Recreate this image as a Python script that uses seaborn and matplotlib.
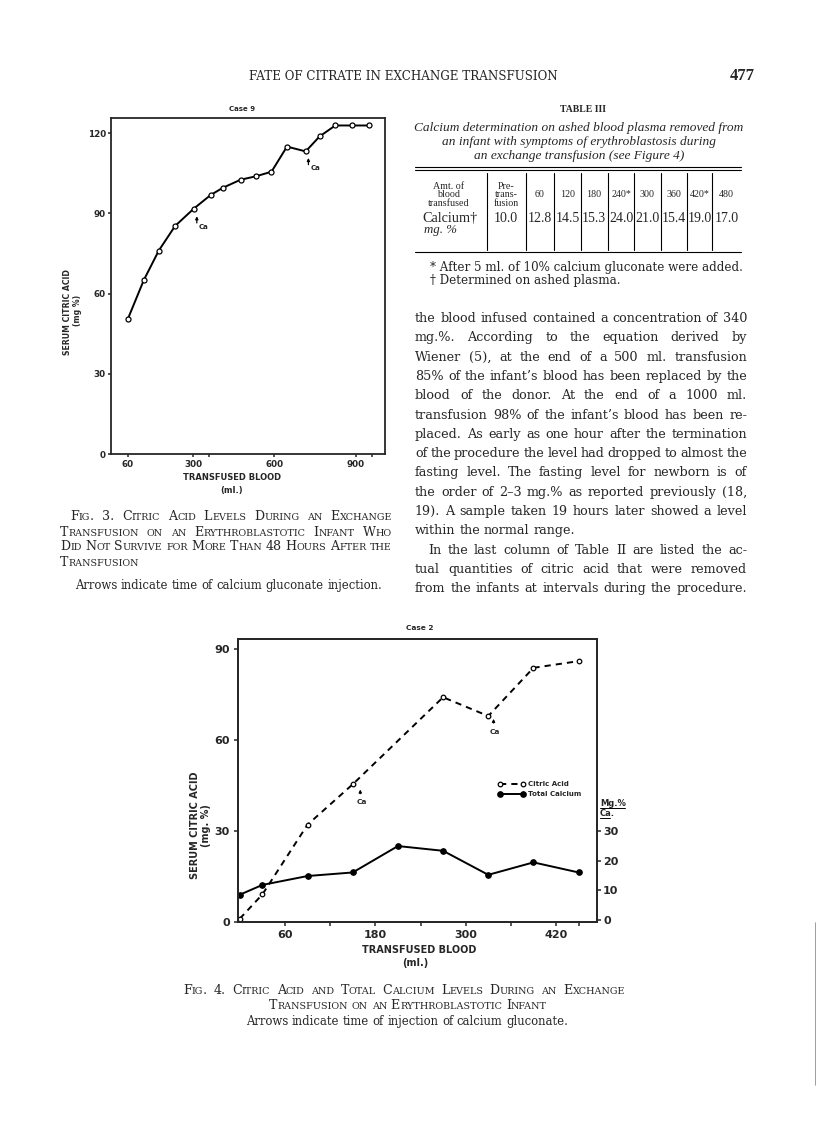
import matplotlib
matplotlib.use("Agg")
import matplotlib.pyplot as plt
from matplotlib.lines import Line2D
import seaborn as sns
import pandas as pd

# ==============================
# Data
# ==============================
# Fig. 3, case 9: serum citric acid (mg %) vs transfused blood (ml)
case9_ml = [60, 119, 174, 234, 303, 365, 410, 475, 532, 589, 646, 715, 766, 824, 887, 948]
case9_citric = [50.5, 65.1, 76.1, 85.3, 91.8, 96.9, 99.6, 102.6, 103.9, 105.6, 115.0, 113.2, 118.8, 122.9, 122.9, 122.9]
case9_ca_ml = [314, 725]          # calcium gluconate given (arrows)
case9_ca_level = [90.0, 111.8]

# Fig. 4, case 2
case2_citric_ml = [0, 30, 90, 150, 270, 330, 390, 450]
case2_citric = [1.0, 9.0, 32.0, 45.3, 74.0, 67.8, 83.7, 85.9]
case2_calcium_ml = [0, 30, 90, 150, 210, 270, 330, 390, 450]
case2_calcium = [8.5, 11.8, 14.8, 16.0, 24.9, 23.3, 15.2, 19.4, 16.0]
case2_ca_ml = [160, 337]
case2_ca_level = [44.5, 67.8]

# Table III
table_cols = ["60", "120", "180", "240*", "300", "360", "420*", "480"]
table_pre = "10.0"
table_calcium = ["12.8", "14.5", "15.3", "24.0", "21.0", "15.4", "19.0", "17.0"]

W, H = 816, 1130
SERIF = "Liberation Serif"
BODY = "DejaVu Serif"
SANS = "DejaVu Sans"

sns.set_style("ticks")
plt.rcParams["font.family"] = [SANS]
plt.rcParams["axes.linewidth"] = 1.3

fig = plt.figure(figsize=(W / 100, H / 100), dpi=100)
fig.patch.set_facecolor("white")
R = fig.canvas.get_renderer()


def put(x, y, s, **kw):
    kw.setdefault("family", SERIF)
    return fig.text(x / W, 1 - y / H, s, **kw)


def hline(x0, x1, y, lw=0.8, color="black"):
    fig.add_artist(Line2D([x0 / W, x1 / W], [1 - y / H, 1 - y / H], color=color, lw=lw))


def vline(x, y0, y1, lw=0.8, color="black"):
    fig.add_artist(Line2D([x / W, x / W], [1 - y0 / H, 1 - y1 / H], color=color, lw=lw))


def make_word(word, size, smallcaps=False, family=SERIF, style="normal"):
    runs = []
    if smallcaps:
        for ch in word:
            small = ch.islower()
            c = ch.upper() if small else ch
            if runs and runs[-1][1] == small:
                runs[-1][0] += c
            else:
                runs.append([c, small])
    else:
        runs = [[word, False]]
    pieces, widths = [], []
    for s, small in runs:
        t = fig.text(0, 0, s, fontsize=size * 0.76 if small else size,
                     family=family, style=style, va="baseline")
        pieces.append(t)
        widths.append(t.get_window_extent(R).width)
    return pieces, widths


def text_line(y, s, x0, x1=None, align="justify", size=10.3, smallcaps=False,
              family=BODY, style="normal"):
    words = s.split()
    items = [make_word(w, size, smallcaps, family, style) for w in words]
    total = sum(sum(ws) for _, ws in items)
    space = size * 0.3 * 100 / 72
    if align == "justify" and len(words) > 1:
        gap = max((x1 - x0 - total) / (len(words) - 1), space * 0.5)
        x = x0
    else:
        gap = space
        full = total + gap * (len(words) - 1)
        x = x0 if align == "left" else x0 - full / 2
    for pieces, ws in items:
        for p, w in zip(pieces, ws):
            p.set_position((x / W, 1 - y / H))
            x += w
        x += gap


# ==============================
# Page header
# ==============================
put(403, 80, "FATE OF CITRATE IN EXCHANGE TRANSFUSION", fontsize=8.6, family=BODY,
    ha="center", va="baseline")
put(742, 80, "477", fontsize=12, weight="bold", ha="center", va="baseline")

# ==============================
# Fig. 3 chart (case 9)
# ==============================
ax1 = fig.add_axes([111 / W, 1 - 454 / H, 274 / W, 336 / H])
df9 = pd.DataFrame({"ml": case9_ml, "citric": case9_citric})
sns.lineplot(data=df9, x="ml", y="citric", ax=ax1, color="black", lw=1.4,
             marker="o", markersize=3.6, markerfacecolor="white",
             markeredgecolor="black", markeredgewidth=0.9)
ax1.set_xlim(-2, 1007)
ax1.set_ylim(0, 125.7)
ax1.set_xticks([60, 300, 600, 900])
ax1.set_xticks([360, 960], minor=True)
ax1.set_yticks([0, 30, 60, 90, 120])
ax1.tick_params(which="both", direction="out", length=2.4, width=1.1, labelsize=6.3, pad=2)
ax1.tick_params(axis="y", pad=1.2)
for lab in ax1.get_xticklabels() + ax1.get_yticklabels():
    lab.set_fontweight("bold")
ax1.set_xlabel("")
ax1.set_ylabel("")
for sp in ax1.spines.values():
    sp.set_visible(True)
    sp.set_linewidth(1.3)

for x, lvl in zip(case9_ca_ml, case9_ca_level):
    ax1.annotate("", xy=(x, lvl), xytext=(x, lvl - 4.6),
                 arrowprops=dict(arrowstyle="-|>", lw=0.9, color="black", mutation_scale=4))
    ax1.text(x + 7, lvl - 4.9, "Ca", fontsize=5, weight="bold", va="center", ha="left")

put(242, 111, "Case 9", family=SANS, fontsize=5, weight="bold", ha="center", va="baseline")
put(68, 312, "SERUM CITRIC ACID", family=SANS, fontsize=5.6, weight="bold",
    rotation=90, ha="center", va="center")
put(78, 310, "(mg %)", family=SANS, fontsize=5.6, weight="bold",
    rotation=90, ha="center", va="center")
put(232, 480, "TRANSFUSED BLOOD", family=SANS, fontsize=6, weight="bold", ha="center", va="baseline")
put(232, 493, "(ml.)", family=SANS, fontsize=6, weight="bold", ha="center", va="baseline")

# Fig. 3 caption (small capitals)
text_line(520, "Fig. 3.  Citric Acid Levels During an Exchange", 70, 392, size=9.1, smallcaps=True)
text_line(535.5, "Transfusion on an Erythroblastotic Infant Who", 60, 392, size=9.1, smallcaps=True)
text_line(550.5, "Did Not Survive for More Than 48 Hours After the", 60, 392, size=9.1, smallcaps=True)
text_line(565.5, "Transfusion", 60, align="left", size=9.1, smallcaps=True)
text_line(589, "Arrows indicate time of calcium gluconate injection.", 75, align="left", size=8.4)

# ==============================
# Table III
# ==============================
put(583, 112, "TABLE III", fontsize=7, weight="bold", ha="center", va="baseline")
put(579, 131.5, "Calcium determination on ashed blood plasma removed from",
    fontsize=9.6, style="italic", ha="center", va="baseline")
put(579, 145.5, "an infant with symptoms of erythroblastosis during",
    fontsize=9.6, style="italic", ha="center", va="baseline")
put(579, 159.5, "an exchange transfusion (see Figure 4)",
    fontsize=9.6, style="italic", ha="center", va="baseline")

hline(415, 741, 167)
hline(415, 741, 169.6)
hline(415, 741, 252)
col_lines = [486.7, 526, 554.3, 580.7, 607.7, 634.3, 660.7, 687, 712.3]
for x in col_lines:
    vline(x, 173, 250, lw=0.8)
col_centers = [540, 567.5, 594, 621, 647.5, 674, 700, 726.7]

put(449, 195, "Amt. of\nblood\ntransfused", fontsize=7.2, ha="center", va="center",
    multialignment="center", linespacing=0.95)
put(506, 195, "Pre-\ntrans-\nfusion", fontsize=7.2, ha="center", va="center",
    multialignment="center", linespacing=0.95)
for x, c in zip(col_centers, table_cols):
    put(x, 195, c, fontsize=7.2, ha="center", va="center")

put(450, 222, "Calcium\u2020", fontsize=10.3, ha="center", va="baseline")
put(441, 233.5, "mg. %", fontsize=9.3, style="italic", ha="center", va="baseline")
put(506, 222, table_pre, fontsize=10, ha="center", va="baseline")
for x, v in zip(col_centers, table_calcium):
    put(x, 222, v, fontsize=10, ha="center", va="baseline")

put(430, 271, "* After 5 ml. of 10% calcium gluconate were added.", fontsize=8.6,
    family=BODY, ha="left", va="baseline")
put(430, 284, "\u2020 Determined on ashed plasma.", fontsize=8.6, family=BODY,
    ha="left", va="baseline")

# ==============================
# Body text
# ==============================
body = [
    ("the blood infused contained a concentration of 340", "justify", 415),
    ("mg.%.  According to the equation derived by", "justify", 415),
    ("Wiener (5), at the end of a 500 ml. transfusion", "justify", 415),
    ("85% of the infant\u2019s blood has been replaced by the", "justify", 415),
    ("blood of the donor.  At the end of a 1000 ml.", "justify", 415),
    ("transfusion 98% of the infant\u2019s blood has been re-", "justify", 415),
    ("placed.  As early as one hour after the termination", "justify", 415),
    ("of the procedure the level had dropped to almost the", "justify", 415),
    ("fasting level.  The fasting level for newborn is of", "justify", 415),
    ("the order of 2\u20133 mg.% as reported previously (18,", "justify", 415),
    ("19).  A sample taken 19 hours later showed a level", "justify", 415),
    ("within the normal range.", "left", 415),
    ("In the last column of Table II are listed the ac-", "justify", 428),
    ("tual quantities of citric acid that were removed", "justify", 415),
    ("from the infants at intervals during the procedure.", "justify", 415),
]
for i, (s, al, x0) in enumerate(body):
    text_line(322 + i * 19.3, s, x0, 747, align=al, size=9.15)

# ==============================
# Fig. 4 chart (case 2)
# ==============================
ax2 = fig.add_axes([238.3 / W, 1 - 921.7 / H, 358.4 / W, 282.7 / H])
df_cit = pd.DataFrame({"ml": case2_citric_ml, "val": case2_citric})
df_cal = pd.DataFrame({"ml": case2_calcium_ml, "val": case2_calcium})
sns.lineplot(data=df_cit, x="ml", y="val", ax=ax2, color="black", lw=1.4,
             marker="o", markersize=3.3, markerfacecolor="white",
             markeredgecolor="black", markeredgewidth=0.9, label="Citric Acid")
ax2.lines[-1].set_dashes([3.2, 2.6])
ax2.set_xlim(-2, 474)
ax2.set_ylim(0, 93.2)
ax2.set_xticks([60, 180, 300, 420])
ax2.set_xticks([120, 240, 360, 450], minor=True)
ax2.set_yticks([0, 30, 60, 90])
ax2.tick_params(which="both", direction="out", length=2.6, width=1.1, labelsize=8, pad=3.6)
for lab in ax2.get_xticklabels() + ax2.get_yticklabels():
    lab.set_fontweight("bold")
ax2.set_xlabel("")
ax2.set_ylabel("")
for sp in ax2.spines.values():
    sp.set_visible(True)
    sp.set_linewidth(1.3)

ax3 = ax2.twinx()
sns.lineplot(data=df_cal, x="ml", y="val", ax=ax3, color="black", lw=1.4,
             marker="o", markersize=4, markerfacecolor="black",
             markeredgecolor="black", markeredgewidth=0.8, label="Total Calcium")
ax3.set_ylim(-0.6, 94.7)
ax3.set_yticks([0, 10, 20, 30])
ax3.tick_params(direction="out", length=2.6, width=1.1, labelsize=8, pad=2)
for lab in ax3.get_yticklabels():
    lab.set_fontweight("bold")
ax3.set_ylabel("")
ax3.set_xlabel("")
ax3.spines["right"].set_linewidth(1.3)

for x, lvl in zip(case2_ca_ml, case2_ca_level):
    ax2.annotate("", xy=(x, lvl), xytext=(x, lvl - 3.2),
                 arrowprops=dict(arrowstyle="-|>", lw=0.9, color="black", mutation_scale=4))
    ax2.text(x + 2, lvl - 5.2, "Ca", fontsize=5.3, weight="bold", va="center", ha="center")

handles = [ax2.lines[0], ax3.lines[0]]
if ax2.get_legend():
    ax2.get_legend().remove()
if ax3.get_legend():
    ax3.get_legend().remove()
ax3.legend(handles, ["Citric Acid", "Total Calcium"], loc="upper left",
           bbox_to_anchor=(0.724, 0.497), frameon=False, numpoints=2, handlelength=4.0,
           handletextpad=0.3, labelspacing=0.6, borderpad=0, borderaxespad=0,
           prop={"size": 5, "weight": "bold", "family": SANS})

put(420, 629.5, "Case 2", family=SANS, fontsize=5.3, weight="bold", ha="center", va="baseline")
put(195, 825, "SERUM CITRIC ACID", family=SANS, fontsize=7, weight="bold",
    rotation=90, ha="center", va="center")
put(206, 826, "(mg. %)", family=SANS, fontsize=7, weight="bold",
    rotation=90, ha="center", va="center")
put(419, 953, "TRANSFUSED BLOOD", family=SANS, fontsize=7, weight="bold", ha="center", va="baseline")
put(415, 966, "(ml.)", family=SANS, fontsize=7, weight="bold", ha="center", va="baseline")
put(600, 806, "Mg.%", family=SANS, fontsize=6, weight="bold", ha="left", va="baseline")
put(600, 816, "Ca.", family=SANS, fontsize=6, weight="bold", ha="left", va="baseline")
hline(600, 625, 808, lw=0.7)
hline(600, 610, 818, lw=0.7)

# Fig. 4 caption
text_line(994, "Fig. 4.  Citric Acid and Total Calcium Levels During an Exchange", 183, 625,
          size=9.1, smallcaps=True)
text_line(1009, "Transfusion on an Erythroblastotic Infant", 408, align="center", size=9.1,
          smallcaps=True)
text_line(1025, "Arrows indicate time of injection of calcium gluconate.", 407, align="center",
          size=8.4)

# scanner edge
vline(815.5, 923, 1085, lw=1.2, color="0.55")

fig.savefig("out.png", dpi=100)
